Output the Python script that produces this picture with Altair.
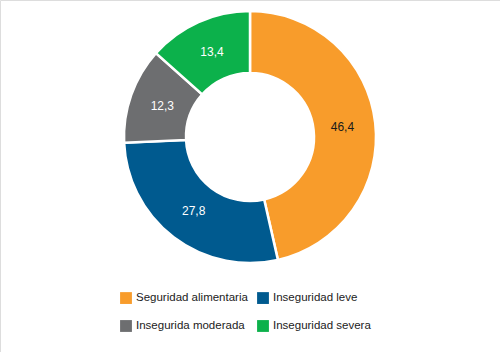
import altair as alt
import pandas as pd

categories = ["Seguridad alimentaria", "Inseguridad leve", "Insegurida moderada", "Inseguridad severa"]
values = [46.4, 27.8, 12.3, 13.4]
colors = ["#F89C2B", "#005A8F", "#6D6E70", "#0CB14B"]

# legend is laid out column by column: first column holds items 1 and 3
legend_order = [categories[0], categories[2], categories[1], categories[3]]
legend_colors = [colors[0], colors[2], colors[1], colors[3]]

df = pd.DataFrame({"categoria": categories, "valor": values, "orden": list(range(len(categories)))})

base = alt.Chart(df).encode(
    theta=alt.Theta("valor:Q", stack=True),
    order=alt.Order("orden:Q"),
)

arcs = base.mark_arc(stroke="white", strokeWidth=2.5).encode(
    x=alt.value(250),
    y=alt.value(137),
    radius=alt.value(126),
    radius2=alt.value(64),
    color=alt.Color(
        "categoria:N",
        scale=alt.Scale(domain=legend_order, range=legend_colors),
        sort=legend_order,
        legend=alt.Legend(
            title=None,
            orient="none",
            legendX=120,
            legendY=292,
            columns=2,
            columnPadding=9,
            rowPadding=16,
            symbolType="square",
            symbolSize=140,
            symbolStrokeWidth=0,
            symbolOpacity=1,
            labelFont="Liberation Sans",
            labelFontSize=11.5,
            labelColor="#222222",
            labelOffset=4,
            labelLimit=200,
        ),
    ),
)

labels = base.transform_calculate(
    etiqueta="replace(format(datum.valor, '.1f'), '.', ',')"
).mark_text(font="Liberation Sans", fontSize=12).encode(
    x=alt.value(250),
    y=alt.value(137),
    radius=alt.value(93),
    text="etiqueta:N",
    color=alt.condition(
        alt.datum.categoria == "Seguridad alimentaria",
        alt.value("#1a1a1a"),
        alt.value("white"),
    ),
)

chart = (
    alt.layer(arcs, labels)
    .properties(width=500, height=352, autosize=alt.AutoSizeParams(type="none"), padding=0)
    .configure_view(stroke=None)
    .configure(background="white")
)

chart.save("out.html", embed_options={"renderer": "svg", "actions": False})
